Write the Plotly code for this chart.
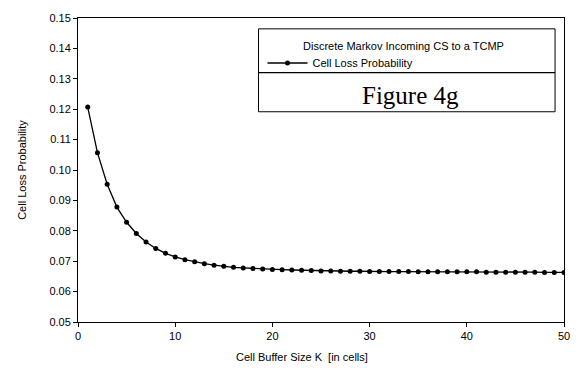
import plotly.graph_objects as go

# Cell buffer size K (cells) and the resulting cell loss probability
buffer_size = list(range(1, 51))
cell_loss = [
    0.1207, 0.1057, 0.0953, 0.0878, 0.0828, 0.0791, 0.0763, 0.0742, 0.0726, 0.0714,
    0.0705, 0.0698, 0.0692, 0.0687, 0.0683, 0.0680, 0.0678, 0.0676, 0.0674, 0.0673,
    0.0672, 0.0671, 0.0670, 0.0669, 0.0668, 0.0668, 0.0667, 0.0667, 0.0667, 0.0666,
    0.0666, 0.0666, 0.0666, 0.0666, 0.0665, 0.0665, 0.0665, 0.0665, 0.0665, 0.0665,
    0.0665, 0.0664, 0.0664, 0.0664, 0.0664, 0.0664, 0.0664, 0.0663, 0.0663, 0.0663,
]

x_ticks = [0, 10, 20, 30, 40, 50]
y_ticks = [0.05, 0.06, 0.07, 0.08, 0.09, 0.10, 0.11, 0.12, 0.13, 0.14, 0.15]

series_name = "Cell Loss Probability"
legend_title = "Discrete Markov Incoming CS to a TCMP"
figure_label = "Figure 4g"
x_title = "Cell Buffer Size K  [in cells]"
y_title = "Cell Loss Probability"

SANS = "Liberation Sans, Arial, sans-serif"
SERIF = "Liberation Serif, Times New Roman, serif"

fig = go.Figure()
fig.add_trace(go.Scatter(
    x=buffer_size, y=cell_loss, mode="lines+markers", name=series_name,
    line=dict(color="black", width=1.3),
    marker=dict(color="black", size=5, symbol="circle"),
))

# legend frame: upper panel holds the series key, lower panel the figure label
fig.add_shape(type="rect", xref="paper", yref="paper",
              x0=0.3714, x1=0.9816, y0=0.6916, y1=0.9643,
              line=dict(color="black", width=1), fillcolor="white", layer="below")
fig.add_shape(type="line", xref="paper", yref="paper",
              x0=0.3714, x1=0.9816, y0=0.8205, y1=0.8205,
              line=dict(color="black", width=1.2))

fig.add_annotation(text=legend_title, xref="paper", yref="paper",
                   x=0.669, y=0.9085, xanchor="center", yanchor="middle",
                   showarrow=False, font=dict(family=SANS, size=11, color="black"))
fig.add_annotation(text=figure_label, xref="paper", yref="paper",
                   x=0.6837, y=0.7445, xanchor="center", yanchor="middle",
                   showarrow=False, font=dict(family=SERIF, size=25, color="black"))
fig.add_annotation(text=x_title, xref="paper", yref="paper",
                   x=0.461, y=-0.115, xanchor="center", yanchor="middle",
                   showarrow=False, font=dict(family=SANS, size=11, color="black"))

fig.update_layout(
    width=582, height=368,
    margin=dict(l=78, r=14, t=14, b=46, pad=0),
    paper_bgcolor="white", plot_bgcolor="white",
    font=dict(family=SANS, size=11, color="black"),
    showlegend=True,
    legend=dict(x=0.3796, y=0.852, xanchor="left", yanchor="middle",
                bgcolor="rgba(0,0,0,0)", borderwidth=0,
                font=dict(family=SANS, size=11, color="black"),
                itemwidth=40),
    xaxis=dict(range=[0, 50], tickvals=x_ticks, ticktext=[str(v) for v in x_ticks],
               showgrid=False, zeroline=False, showline=True, linecolor="black",
               linewidth=1, mirror=True, ticks="outside", ticklen=4,
               tickcolor="black", tickfont=dict(size=11)),
    yaxis=dict(range=[0.05, 0.15], tickvals=y_ticks,
               ticktext=[f"{v:.2f}" for v in y_ticks],
               showgrid=False, zeroline=False, showline=True, linecolor="black",
               linewidth=1, mirror=True, ticks="outside", ticklen=4,
               tickcolor="black", tickfont=dict(size=11),
               title=dict(text=y_title, font=dict(size=11), standoff=20)),
)

fig.write_html("out.html")
